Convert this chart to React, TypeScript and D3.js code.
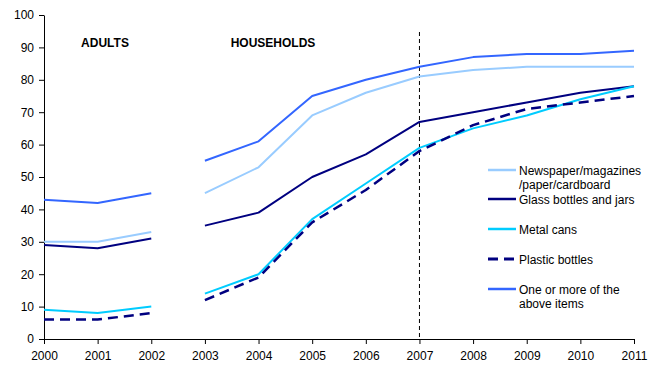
import { useEffect, useRef } from 'react';
import * as d3 from 'd3';

const years = [2000, 2001, 2002, 2003, 2004, 2005, 2006, 2007, 2008, 2009, 2010, 2011];
const yTicks = [0, 10, 20, 30, 40, 50, 60, 70, 80, 90, 100];

// null = break between adult survey (2000-2002) and household survey (2003+)
const newspaper = [30, 30, 33, null, 45, 53, 69, 76, 81, 83, 84, 84, 84];
const glass = [29, 28, 31, null, 35, 39, 50, 57, 67, 70, 73, 76, 78];
const metal = [9, 8, 10, null, 14, 20, 37, 48, 59, 65, 69, 74, 78];
const plastic = [6, 6, 8, null, 12, 19, 36, 46, 58, 66, 71, 73, 75];
const anyItem = [43, 42, 45, null, 55, 61, 75, 80, 84, 87, 88, 88, 89];

// x positions matching the values above (the null sits between 2002 and 2003)
const valueYears = [2000, 2001, 2002, 2002.5, 2003, 2004, 2005, 2006, 2007, 2008, 2009, 2010, 2011];

const series = [
  { name: ['Newspaper/magazines', '/paper/cardboard'], values: newspaper, color: '#99ccff', dash: null, width: 2 },
  { name: ['Glass bottles and jars'], values: glass, color: '#000080', dash: null, width: 2 },
  { name: ['Metal cans'], values: metal, color: '#00ccff', dash: null, width: 2 },
  { name: ['Plastic bottles'], values: plastic, color: '#000080', dash: '10,6', width: 2.5 },
  { name: ['One or more of the', 'above items'], values: anyItem, color: '#3366ff', dash: null, width: 2 },
];

const App = () => {
  const svgRef = useRef(null);

  useEffect(() => {
    const svg = d3.select(svgRef.current);
    svg.selectAll('*').remove();

    const width = 658;
    const height = 373;
    const left = 44, right = 634, top = 15, bottom = 339;
    const font = 'Arial, "Liberation Sans", sans-serif';

    const x = d3.scaleLinear().domain([2000, 2011]).range([left, right]);
    const y = d3.scaleLinear().domain([0, 100]).range([bottom, top]);

    // axes
    const yAxis = svg.append('g')
      .attr('transform', `translate(${left},0)`)
      .call(d3.axisLeft(y).tickValues(yTicks).tickSize(5).tickSizeOuter(0));
    yAxis.select('.domain').attr('stroke', '#000');
    yAxis.selectAll('text').attr('font-size', 12).attr('font-family', font).attr('fill', '#000').attr('dx', -2);

    const xAxis = svg.append('g')
      .attr('transform', `translate(0,${bottom})`)
      .call(d3.axisBottom(x).tickValues(years).tickFormat(d3.format('d')).tickSize(5).tickSizeOuter(0));
    xAxis.select('.domain').attr('stroke', '#000');
    xAxis.selectAll('text').attr('font-size', 12).attr('font-family', font).attr('fill', '#000').attr('dy', '1.1em');

    // 2007 divider
    svg.append('line')
      .attr('x1', x(2007)).attr('x2', x(2007))
      .attr('y1', 32).attr('y2', bottom)
      .attr('stroke', '#000').attr('stroke-width', 1).attr('stroke-dasharray', '4,3');

    // section labels
    svg.append('text').attr('x', 105).attr('y', 47).attr('text-anchor', 'middle')
      .attr('font-size', 12).attr('font-weight', 'bold').attr('font-family', font).text('ADULTS');
    svg.append('text').attr('x', 273).attr('y', 47).attr('text-anchor', 'middle')
      .attr('font-size', 12).attr('font-weight', 'bold').attr('font-family', font).text('HOUSEHOLDS');

    const line = d3.line()
      .defined(d => d[1] != null)
      .x(d => x(d[0]))
      .y(d => y(d[1]));

    series.forEach(s => {
      const pts = valueYears.map((yr, i) => [yr, s.values[i]]);
      svg.append('path')
        .attr('d', line(pts))
        .attr('fill', 'none')
        .attr('stroke', s.color)
        .attr('stroke-width', s.width)
        .attr('stroke-dasharray', s.dash)
        .attr('stroke-linejoin', 'round');
    });

    // legend
    const legendY = [175, 204, 234, 264, 294];
    series.forEach((s, i) => {
      const g = svg.append('g').attr('transform', `translate(488,${legendY[i]})`);
      g.append('line').attr('x1', 0).attr('x2', 28).attr('y1', -5).attr('y2', -5)
        .attr('stroke', s.color).attr('stroke-width', s.width + 0.5).attr('stroke-dasharray', s.dash);
      s.name.forEach((t, j) => {
        g.append('text').attr('x', 31).attr('y', j * 14)
          .attr('font-size', 12).attr('font-family', font).attr('fill', '#000').text(t);
      });
    });

    svg.attr('width', width).attr('height', height);
  }, []);

  return (
    <svg ref={svgRef} style={{ position: 'absolute', left: 0, top: 0, background: '#fff' }}></svg>
  );
};

export default App;
